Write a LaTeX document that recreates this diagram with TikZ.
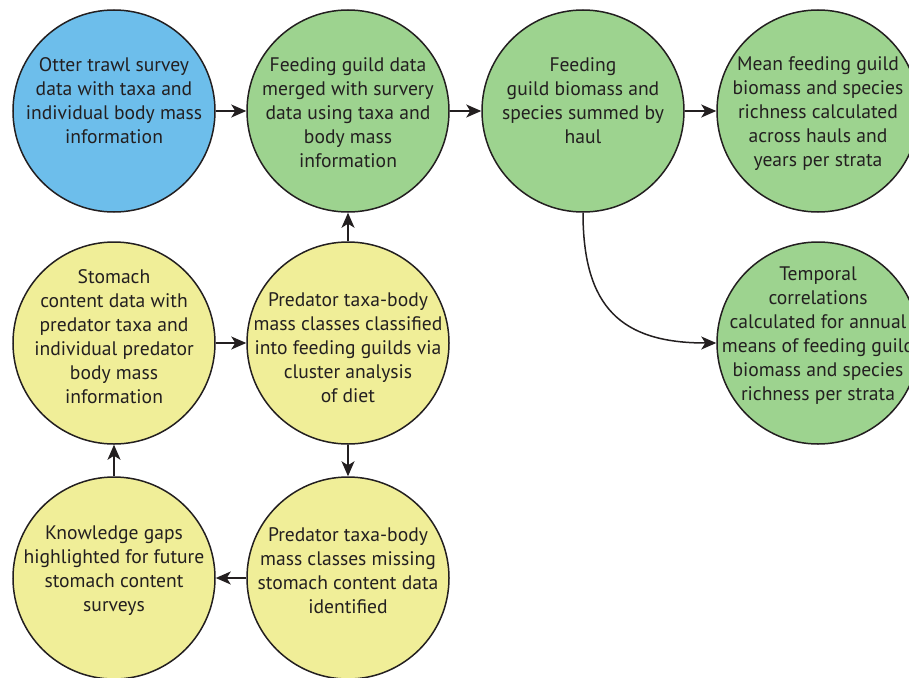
\documentclass[tikz,border=0pt]{standalone}
\usepackage{fontspec}
\setmainfont{PT Sans}
\usetikzlibrary{arrows.meta}
\definecolor{survblue}{HTML}{6DBEEB}
\definecolor{guildgreen}{HTML}{9DD38F}
\definecolor{dietyellow}{HTML}{F0EE98}
\definecolor{inkdark}{HTML}{231F20}

\begin{document}
\begin{tikzpicture}[x=1pt,y=-1pt,
    stage/.style={circle,draw=inkdark,line width=1.5pt,minimum size=202pt,inner sep=0pt},
    caption/.style={align=center,text=inkdark,inner sep=0pt,font=\fontsize{19.6}{24}\selectfont},
    flow/.style={-{Stealth[length=15pt,width=13pt,inset=4pt]},line width=1.5pt,draw=inkdark}]
  \clip (0,0) rectangle (909,677);
  % top row
  \node[stage,fill=survblue,label={[caption,yshift=10pt]center:{Otter trawl survey\\data with taxa and\\individual body mass\\information}}]
    (otter) at (114,111) {};
  \node[stage,fill=guildgreen,label={[caption,yshift=-2pt]center:{Feeding guild data\\merged with survery\\data using taxa and\\body mass\\information}}]
    (merged) at (348,111) {};
  \node[stage,fill=guildgreen,label={[caption,yshift=10pt]center:{Feeding\\guild biomass and\\species summed by\\haul}}]
    (summed) at (583,111) {};
  \node[stage,fill=guildgreen,label={[caption,yshift=-3pt]center:{Mean feeding guild\\biomass and species\\richness calculated\\across hauls and\\years per strata}}]
    (meanrich) at (818,111) {};
  % middle row
  \node[stage,fill=dietyellow,label={[caption,yshift=6pt]center:{Stomach\\content data with\\predator taxa and\\individual predator\\body mass\\information}}]
    (stomach) at (114,343) {};
  \node[stage,fill=dietyellow,label={[caption,yshift=-5pt]center:{Predator taxa-body\\mass classes classified\\into feeding guilds via\\cluster analysis\\of diet}}]
    (classified) at (348,343) {};
  \node[stage,fill=guildgreen,label={[caption,yshift=7pt]center:{Temporal\\correlations\\calculated for annual\\means of feeding guild\\biomass and species\\richness per strata}}]
    (temporal) at (818,343) {};
  % bottom row
  \node[stage,fill=dietyellow,label={[caption,yshift=7pt]center:{Knowledge gaps\\highlighted for future\\stomach content\\surveys}}]
    (gaps) at (114,578) {};
  \node[stage,fill=dietyellow,label={[caption,yshift=7pt]center:{Predator taxa-body\\mass classes missing\\stomach content data\\identified}}]
    (missing) at (348,578) {};
  % connectors
  \draw[flow] (otter) -- (merged);
  \draw[flow] (merged) -- (summed);
  \draw[flow] (summed) -- (meanrich);
  \draw[flow] (summed.south) to[out=-90,in=180,looseness=1.3] (temporal.west);
  \draw[flow] (stomach) -- (classified);
  \draw[flow] (classified) -- (merged);
  \draw[flow] (classified) -- (missing);
  \draw[flow] (missing) -- (gaps);
  \draw[flow] (gaps) -- (stomach);
\end{tikzpicture}
\end{document}
